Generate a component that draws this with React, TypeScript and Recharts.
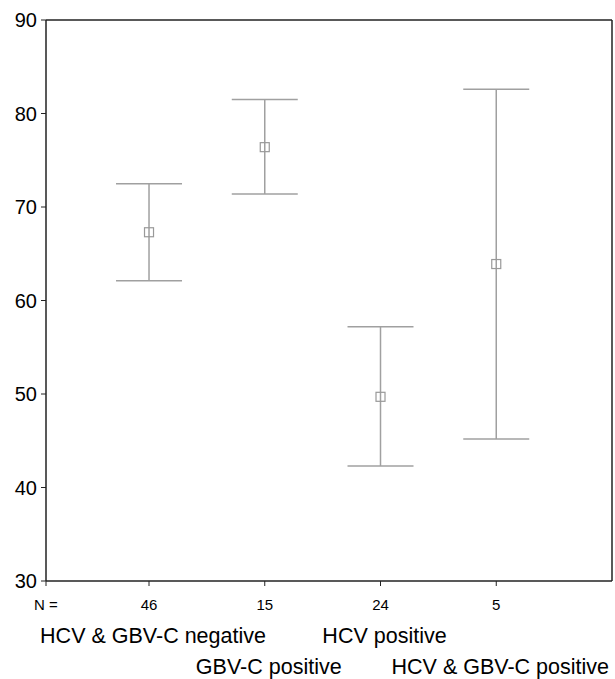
import {
  ComposedChart,
  Scatter,
  ErrorBar,
  XAxis,
  YAxis,
  ReferenceLine,
} from "recharts";

const groups = [
  "HCV & GBV-C negative",
  "GBV-C positive",
  "HCV positive",
  "HCV & GBV-C positive",
];
const counts = [46, 15, 24, 5];
const means = [67.3, 76.4, 49.7, 63.9];
const lowerCI = [62.1, 71.4, 42.3, 45.2];
const upperCI = [72.5, 81.5, 57.2, 82.6];
const yTicks = [30, 40, 50, 60, 70, 80, 90];
const xTicks = [0.11, 1, 2, 3, 4];

const data = groups.map((group, i) => ({
  pos: i + 1,
  group,
  n: counts[i],
  mean: means[i],
  err: [means[i] - lowerCI[i], upperCI[i] - means[i]],
}));

const font = "'Liberation Sans', Arial, sans-serif";

function CategoryTick(props: any) {
  const { x, y, payload } = props;
  if (payload.value < 1) {
    return (
      <text x={x} y={y + 18} textAnchor="middle" dominantBaseline="central" fontSize={15} fontFamily={font} fill="#000">
        N =
      </text>
    );
  }
  const d = data[payload.value - 1];
  const row = (payload.value - 1) % 2;
  return (
    <g>
      <text x={x} y={y + 18} textAnchor="middle" dominantBaseline="central" fontSize={15} fontFamily={font} fill="#000">
        {d.n}
      </text>
      <text x={x + 4} y={y + 50 + row * 31} textAnchor="middle" dominantBaseline="central" fontSize={21.5} fontFamily={font} fill="#000">
        {d.group}
      </text>
    </g>
  );
}

function MeanSquare(props: any) {
  const { cx, cy } = props;
  return <rect x={cx - 4.5} y={cy - 4.5} width={9} height={9} fill="none" stroke="#999" strokeWidth={1.2} />;
}

export default function App() {
  return (
    <div style={{ position: "absolute", left: 0, top: 0, background: "#fff" }}>
      <ComposedChart
        width={615}
        height={679}
        data={data}
        margin={{ top: 20, right: 3, left: 0, bottom: 0 }}
      >
        <XAxis
          dataKey="pos"
          type="number"
          domain={[0.11, 5]}
          ticks={xTicks}
          tick={<CategoryTick />}
          tickSize={5}
          tickMargin={0}
          height={98}
          interval={0}
          axisLine={{ stroke: "#222", strokeWidth: 1.5 }}
          tickLine={{ stroke: "#222" }}
        />
        <YAxis
          type="number"
          domain={[30, 90]}
          ticks={yTicks}
          width={46}
          tickSize={5}
          tickMargin={4}
          tick={{ fontSize: 20, fill: "#000", fontFamily: font }}
          axisLine={{ stroke: "#222", strokeWidth: 1.5 }}
          tickLine={{ stroke: "#222" }}
        />
        <ReferenceLine y={90} stroke="#222" strokeWidth={1.5} />
        <ReferenceLine x={5} stroke="#222" strokeWidth={1.5} />
        <Scatter dataKey="mean" shape={<MeanSquare />} isAnimationActive={false}>
          <ErrorBar dataKey="err" direction="y" width={33} stroke="#a0a0a0" strokeWidth={1.5} />
        </Scatter>
      </ComposedChart>
    </div>
  );
}
